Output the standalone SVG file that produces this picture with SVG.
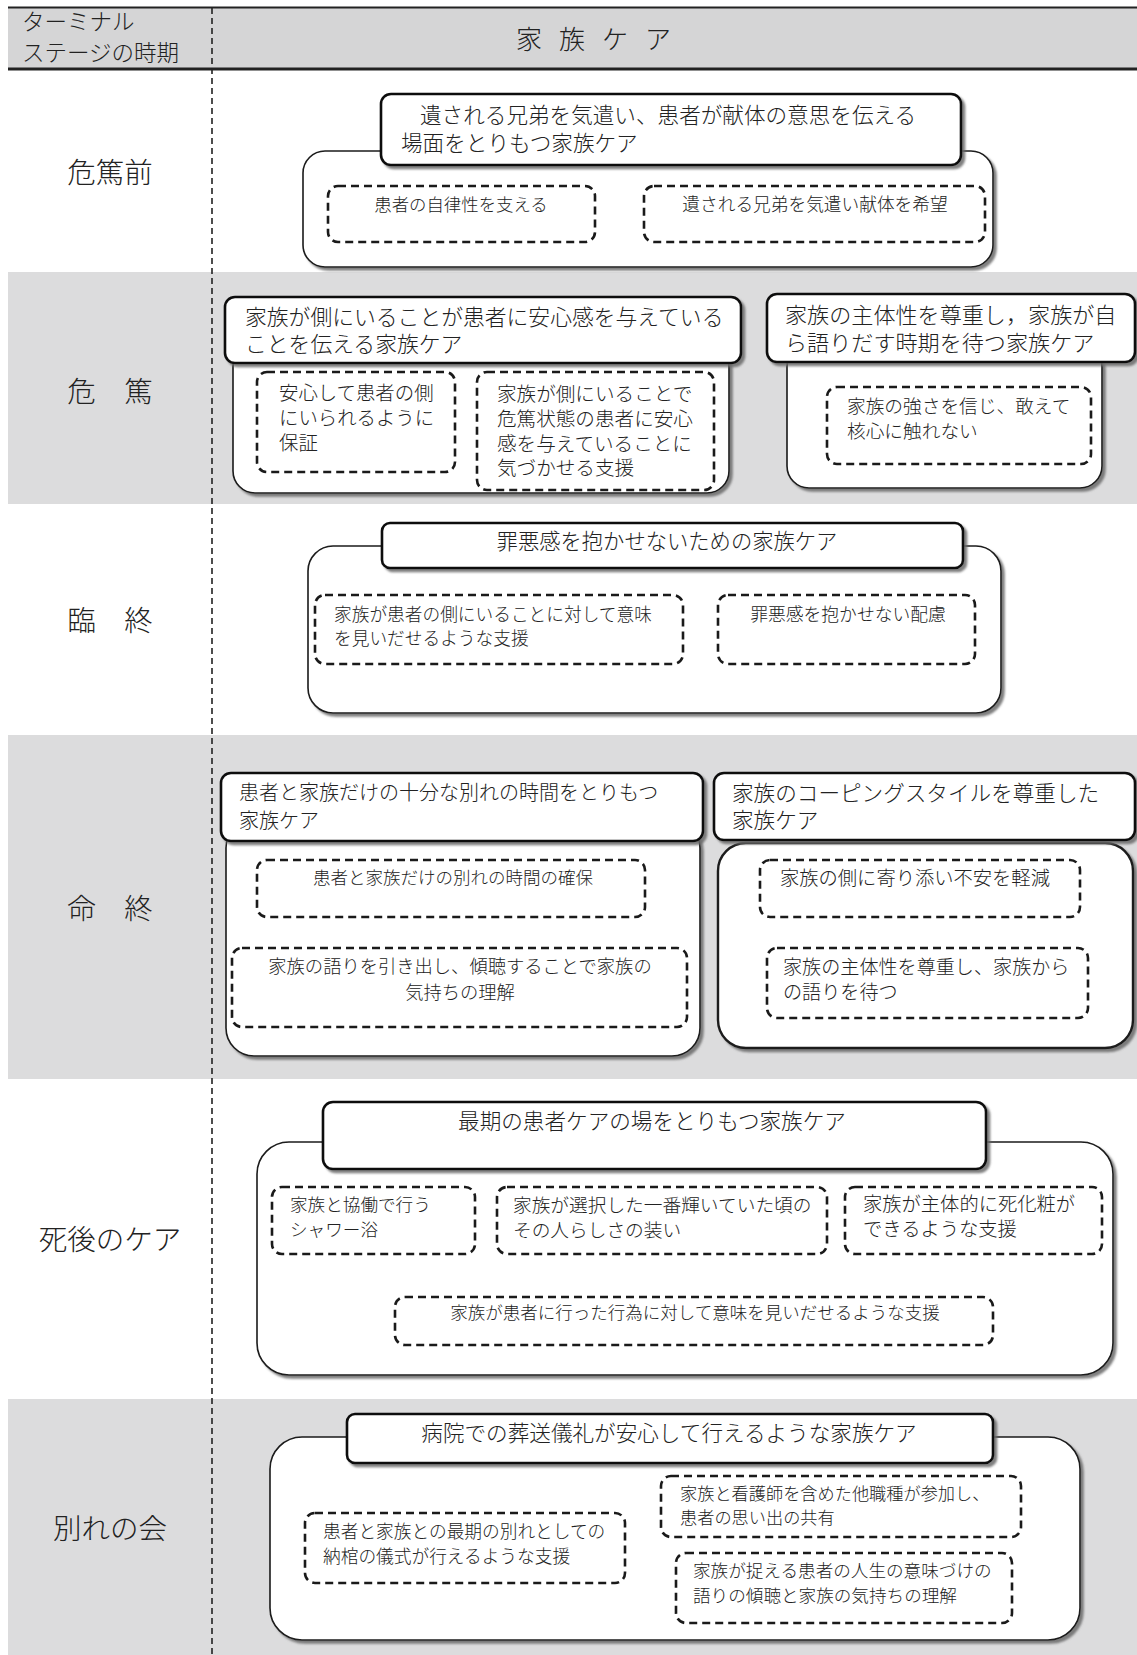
<svg xmlns="http://www.w3.org/2000/svg" width="1137" height="1655" viewBox="0 0 1137 1655">
<defs>
<filter id="sh" x="-5%" y="-5%" width="115%" height="125%">
<feDropShadow dx="3" dy="3" stdDeviation="0.8" flood-color="#6b6b6b" flood-opacity="0.85"/>
</filter>
<style>
text{font-family:"Noto Sans CJK JP","Noto Sans CJK SC",sans-serif;font-weight:300;fill:#222;dominant-baseline:central}
.band{fill:#dcdcdd}
.hdr{fill:#d5d5d6}
.cont{fill:#fff;stroke:#1a1a1a;stroke-width:1.6;filter:url(#sh)}
.cont2{fill:#fff;stroke:#1a1a1a;stroke-width:2.4;filter:url(#sh)}
.title{fill:#fff;stroke:#111;stroke-width:2.6;filter:url(#sh)}
.dash{fill:#fff;stroke:#1a1a1a;stroke-width:2.6;stroke-dasharray:8 5}
.vline{stroke:#222;stroke-width:1.6;stroke-dasharray:6 4;fill:none}
.lbl{font-size:28.5px;text-anchor:middle}
.mid{text-anchor:middle}
</style>
</defs>
<rect x="0" y="0" width="1137" height="1655" fill="#fff"/>
<g id="table">
<rect class="hdr" x="8" y="8" width="1129" height="61"/>
<rect class="band" x="8" y="272" width="1129" height="232"/>
<rect class="band" x="8" y="735" width="1129" height="344"/>
<rect class="band" x="8" y="1399" width="1129" height="256"/>
<line x1="8" y1="7.5" x2="1137" y2="7.5" stroke="#222" stroke-width="2"/>
<line x1="8" y1="69" x2="1137" y2="69" stroke="#222" stroke-width="3"/>
<line class="vline" x1="212" y1="8" x2="212" y2="1655"/>
<text font-size="22.5"><tspan x="22" y="20">ターミナル</tspan><tspan x="22" y="51">ステージの時期</tspan></text>
<text x="516" y="37" font-size="26" letter-spacing="17">家族ケア</text>
</g>
<g id="stage-labels">
<text class="lbl" x="110" y="170">危篤前</text>
<text class="lbl" x="110" y="389">危　篤</text>
<text class="lbl" x="110" y="618">臨　終</text>
<text class="lbl" x="110" y="906">命　終</text>
<text class="lbl" x="110" y="1237">死後のケア</text>
<text class="lbl" x="110" y="1526">別れの会</text>
</g>
<g id="connectors"/>

<g id="row1-container"><rect class="cont" x="303" y="151" width="690" height="116" rx="22"/></g>
<g id="row1-title"><rect class="title" x="381" y="94" width="580" height="71" rx="10"/>
<text font-size="21.6"><tspan x="420" y="113">遺される兄弟を気遣い、患者が献体の意思を伝える</tspan><tspan x="401" y="141">場面をとりもつ家族ケア</tspan></text></g>
<g id="row1-d1"><rect class="dash" x="328" y="186" width="267" height="56" rx="10"/>
<text class="mid" x="461" y="203" font-size="17.4">患者の自律性を支える</text></g>
<g id="row1-d2"><rect class="dash" x="644" y="186" width="341" height="56" rx="10"/>
<text class="mid" x="815" y="203" font-size="17.7">遺される兄弟を気遣い献体を希望</text></g>

<g id="row2-containerA"><rect class="cont" x="233" y="345" width="496" height="148" rx="22"/></g>
<g id="row2-titleA"><rect class="title" x="225" y="297" width="516" height="66" rx="10"/>
<text font-size="21.8"><tspan x="245" y="315">家族が側にいることが患者に安心感を与えている</tspan><tspan x="245" y="342">ことを伝える家族ケア</tspan></text></g>
<g id="row2-a1"><rect class="dash" x="257" y="372" width="198" height="100" rx="10"/>
<text font-size="19.4"><tspan x="279" y="391">安心して患者の側</tspan><tspan x="279" y="416">にいられるように</tspan><tspan x="279" y="441">保証</tspan></text></g>
<g id="row2-a2"><rect class="dash" x="477" y="372" width="237" height="118" rx="10"/>
<text font-size="19.6"><tspan x="497" y="392">家族が側にいることで</tspan><tspan x="497" y="417">危篤状態の患者に安心</tspan><tspan x="497" y="442">感を与えていることに</tspan><tspan x="497" y="466">気づかせる支援</tspan></text></g>
<g id="row2-containerB"><rect class="cont" x="787" y="345" width="315" height="143" rx="22"/></g>
<g id="row2-titleB"><rect class="title" x="767" y="294" width="368" height="68" rx="10"/>
<text font-size="22.1"><tspan x="785" y="313">家族の主体性を尊重し，家族が自</tspan><tspan x="785" y="341">ら語りだす時期を待つ家族ケア</tspan></text></g>
<g id="row2-b1"><rect class="dash" x="827" y="387" width="264" height="77" rx="10"/>
<text font-size="18.7"><tspan x="847" y="404">家族の強さを信じ、敢えて</tspan><tspan x="847" y="429">核心に触れない</tspan></text></g>

<g id="row3-container"><rect class="cont" x="308" y="546" width="693" height="167" rx="25"/></g>
<g id="row3-title"><rect class="title" x="382" y="523" width="581" height="45" rx="8"/>
<text class="mid" x="667" y="539" font-size="21.3">罪悪感を抱かせないための家族ケア</text></g>
<g id="row3-c1"><rect class="dash" x="315" y="595" width="368" height="69" rx="10"/>
<text font-size="17.7"><tspan x="334" y="613">家族が患者の側にいることに対して意味</tspan><tspan x="334" y="637">を見いだせるような支援</tspan></text></g>
<g id="row3-c2"><rect class="dash" x="718" y="595" width="257" height="69" rx="10"/>
<text class="mid" x="848" y="613" font-size="17.8">罪悪感を抱かせない配慮</text></g>

<g id="row4-containerA"><rect class="cont" x="226" y="820" width="474" height="236" rx="28"/></g>
<g id="row4-titleA"><rect class="title" x="221" y="773" width="482" height="68" rx="10"/>
<text font-size="20"><tspan x="239" y="791">患者と家族だけの十分な別れの時間をとりもつ</tspan><tspan x="239" y="819">家族ケア</tspan></text></g>
<g id="row4-containerB"><rect class="cont2" x="718" y="843" width="415" height="205" rx="28"/></g>
<g id="row4-titleB"><rect class="title" x="714" y="773" width="421" height="67" rx="10"/>
<text font-size="21.6"><tspan x="732" y="791">家族のコーピングスタイルを尊重した</tspan><tspan x="732" y="818">家族ケア</tspan></text></g>
<g id="row4-d1"><rect class="dash" x="257" y="860" width="388" height="57" rx="10"/>
<text class="mid" x="453" y="876" font-size="17.5">患者と家族だけの別れの時間の確保</text></g>
<g id="row4-d2"><rect class="dash" x="232" y="948" width="455" height="79" rx="10"/>
<text class="mid" font-size="18.3"><tspan x="460" y="965">家族の語りを引き出し、傾聴することで家族の</tspan><tspan x="460" y="991">気持ちの理解</tspan></text></g>
<g id="row4-d3"><rect class="dash" x="760" y="860" width="320" height="57" rx="10"/>
<text x="780" y="877" font-size="19.3">家族の側に寄り添い不安を軽減</text></g>
<g id="row4-d4"><rect class="dash" x="767" y="948" width="321" height="70" rx="10"/>
<text font-size="19.1"><tspan x="783" y="966">家族の主体性を尊重し、家族から</tspan><tspan x="783" y="991">の語りを待つ</tspan></text></g>

<g id="row5-container"><rect class="cont" x="257" y="1142" width="856" height="233" rx="32"/></g>
<g id="row5-title"><rect class="title" x="323" y="1102" width="663" height="67" rx="10"/>
<text class="mid" x="652" y="1119" font-size="21.6">最期の患者ケアの場をとりもつ家族ケア</text></g>
<g id="row5-e1"><rect class="dash" x="272" y="1187" width="203" height="67" rx="10"/>
<text font-size="17.6"><tspan x="290" y="1203">家族と協働で行う</tspan><tspan x="290" y="1228">シャワー浴</tspan></text></g>
<g id="row5-e2"><rect class="dash" x="497" y="1187" width="330" height="67" rx="10"/>
<text font-size="18.7"><tspan x="513" y="1203">家族が選択した一番輝いていた頃の</tspan><tspan x="513" y="1228">その人らしさの装い</tspan></text></g>
<g id="row5-e3"><rect class="dash" x="845" y="1187" width="257" height="67" rx="10"/>
<text font-size="19.3"><tspan x="863" y="1203">家族が主体的に死化粧が</tspan><tspan x="863" y="1228">できるような支援</tspan></text></g>
<g id="row5-e4"><rect class="dash" x="395" y="1297" width="598" height="48" rx="10"/>
<text class="mid" x="695" y="1311" font-size="17.5">家族が患者に行った行為に対して意味を見いだせるような支援</text></g>

<g id="row6-container"><rect class="cont" x="270" y="1437" width="810" height="203" rx="32"/></g>
<g id="row6-title"><rect class="title" x="347" y="1414" width="646" height="49" rx="8"/>
<text class="mid" x="669" y="1431" font-size="21.6">病院での葬送儀礼が安心して行えるような家族ケア</text></g>
<g id="row6-f1"><rect class="dash" x="305" y="1513" width="320" height="70" rx="10"/>
<text font-size="17.7"><tspan x="323" y="1530">患者と家族との最期の別れとしての</tspan><tspan x="323" y="1555">納棺の儀式が行えるような支援</tspan></text></g>
<g id="row6-f2"><rect class="dash" x="661" y="1476" width="360" height="61" rx="10"/>
<text font-size="17.2"><tspan x="680" y="1492">家族と看護師を含めた他職種が参加し、</tspan><tspan x="680" y="1516">患者の思い出の共有</tspan></text></g>
<g id="row6-f3"><rect class="dash" x="676" y="1553" width="336" height="70" rx="10"/>
<text font-size="17.6"><tspan x="693" y="1569">家族が捉える患者の人生の意味づけの</tspan><tspan x="693" y="1594">語りの傾聴と家族の気持ちの理解</tspan></text></g>
</svg>
